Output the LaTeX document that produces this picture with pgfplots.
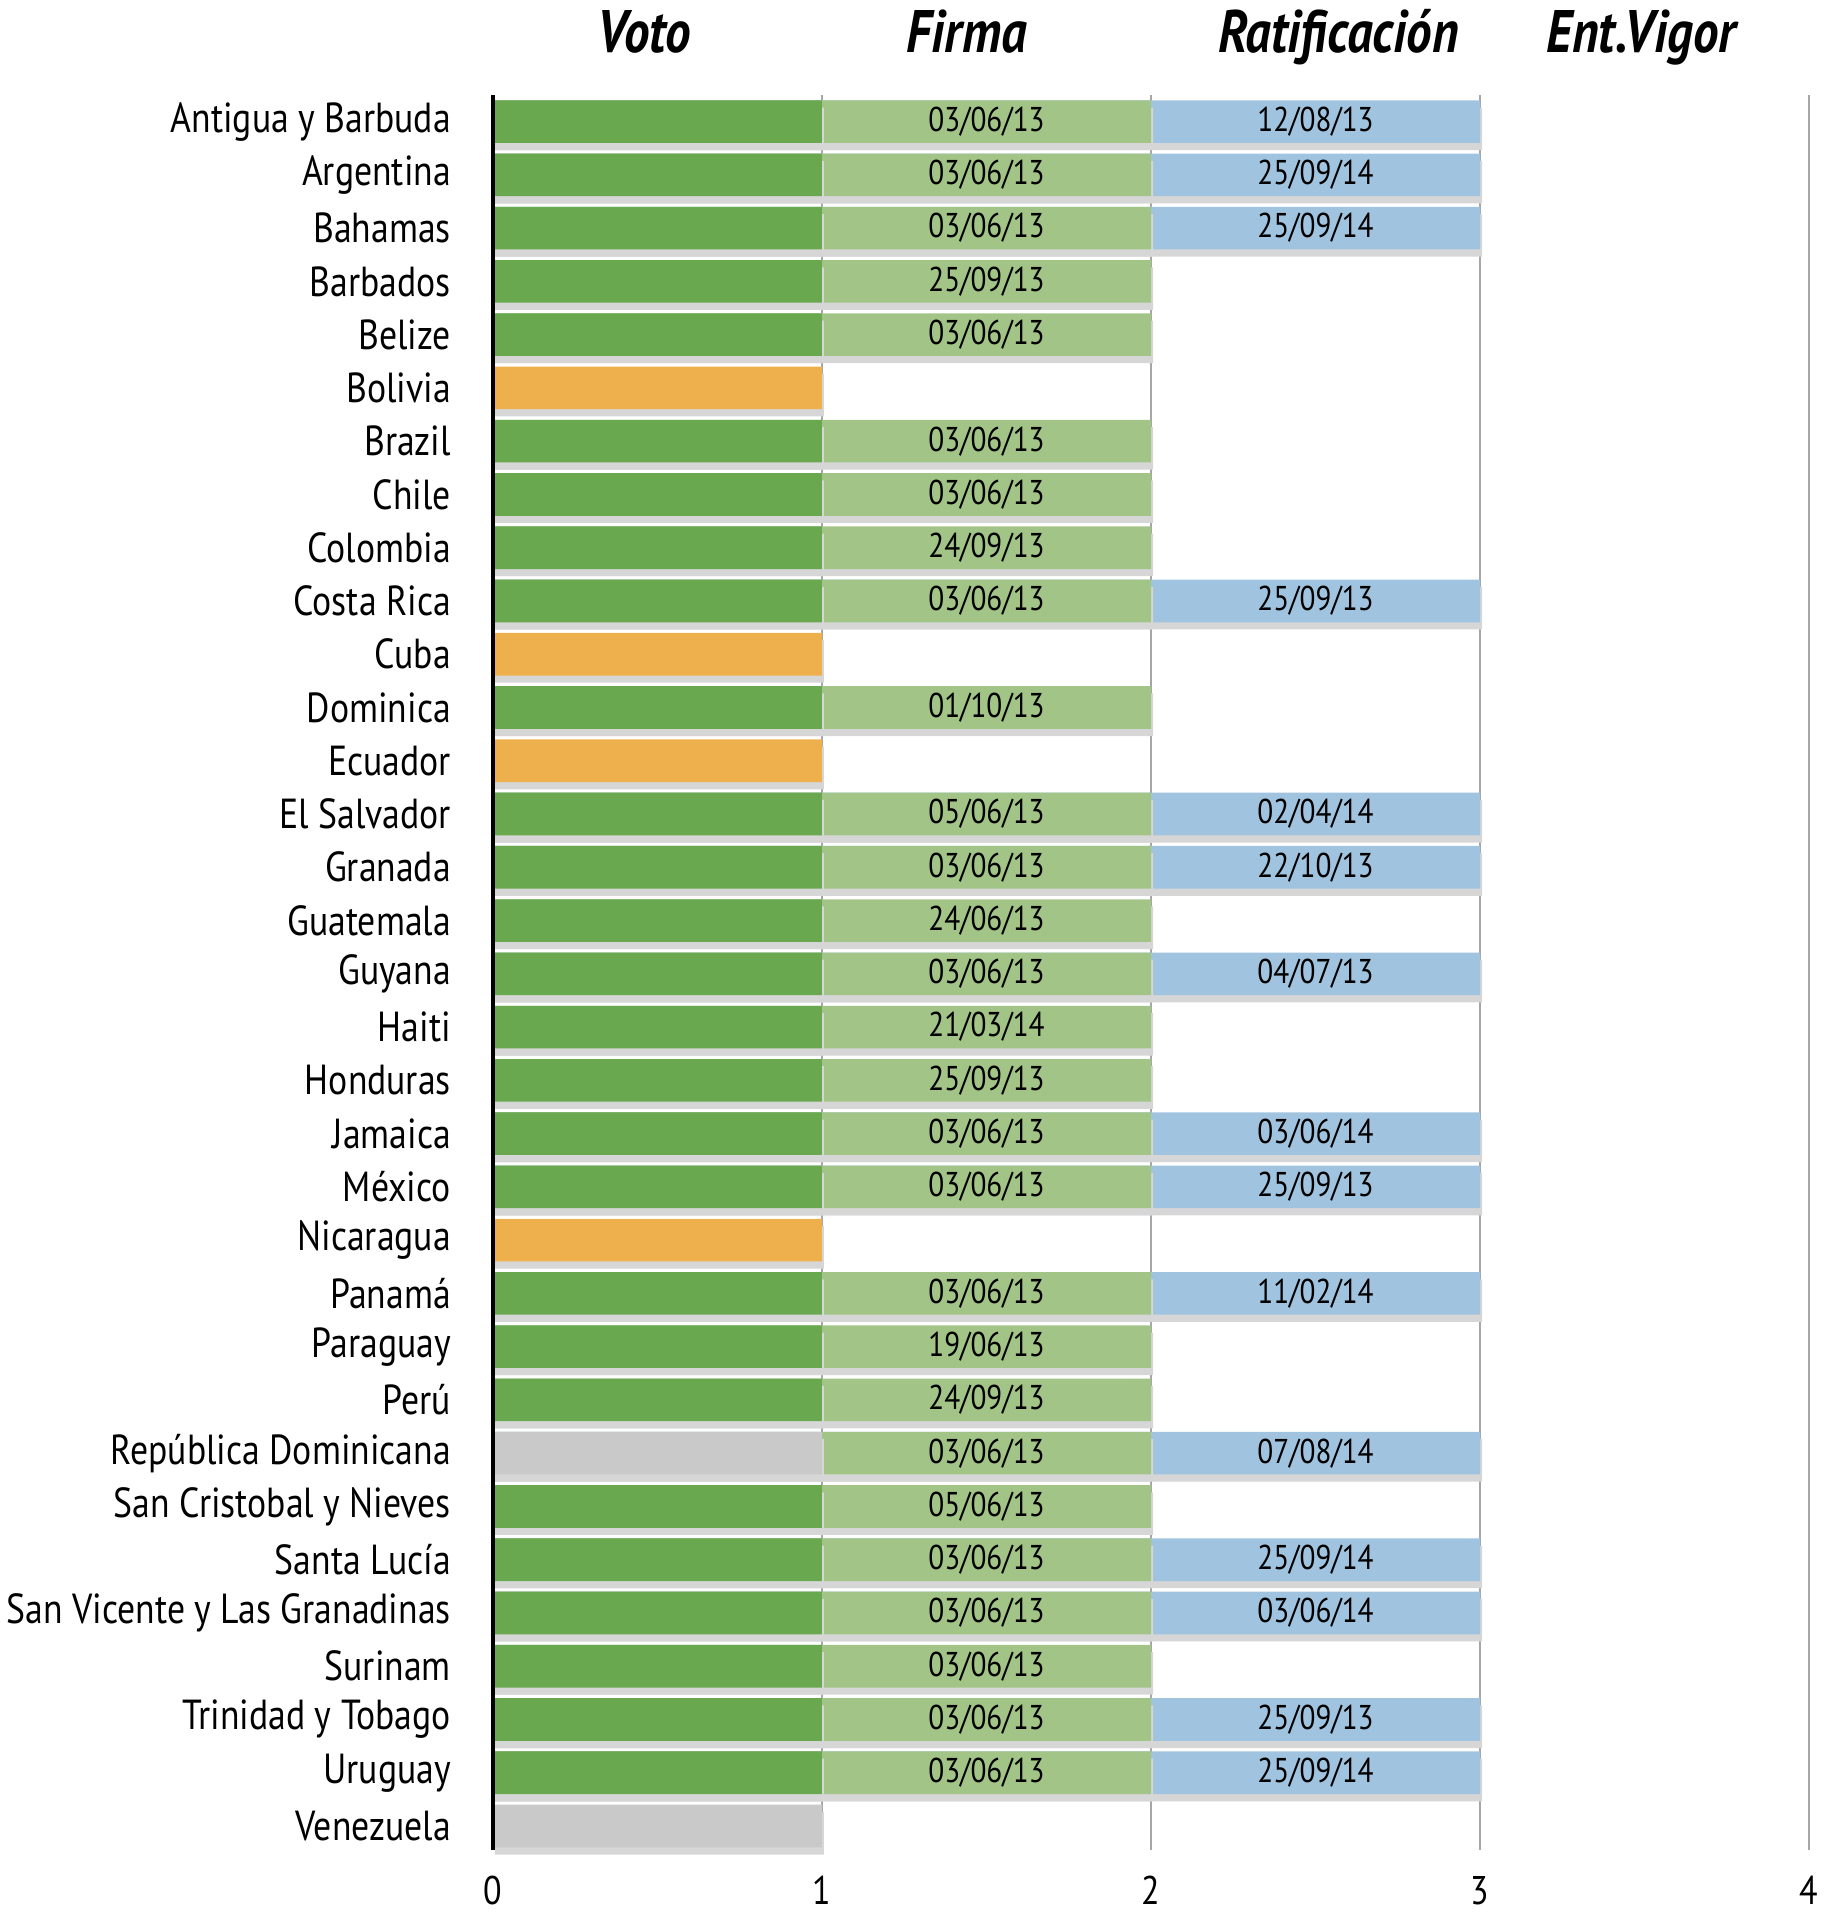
\documentclass[border=0pt]{standalone}
\usepackage{fontspec}
\setmainfont{PT Sans}[FakeStretch=0.85]
\usepackage{pgfplots}
\usepackage{pgfplotstable}
\pgfplotsset{compat=1.18}
\usetikzlibrary{shadows}

\definecolor{cvoto}{RGB}{106,168,80}
\definecolor{cno}{RGB}{237,176,77}
\definecolor{cabs}{RGB}{201,201,201}
\definecolor{cfirma}{RGB}{162,196,135}
\definecolor{crat}{RGB}{160,196,223}

% y = 32 - row index (Antigua at top)
\pgfplotstableread{
y  e  m   d
32 2 1.5 03/06/13
31 2 1.5 03/06/13
30 2 1.5 03/06/13
29 2 1.5 25/09/13
28 2 1.5 03/06/13
26 2 1.5 03/06/13
25 2 1.5 03/06/13
24 2 1.5 24/09/13
23 2 1.5 03/06/13
21 2 1.5 01/10/13
19 2 1.5 05/06/13
18 2 1.5 03/06/13
17 2 1.5 24/06/13
16 2 1.5 03/06/13
15 2 1.5 21/03/14
14 2 1.5 25/09/13
13 2 1.5 03/06/13
12 2 1.5 03/06/13
10 2 1.5 03/06/13
9  2 1.5 19/06/13
8  2 1.5 24/09/13
7  2 1.5 03/06/13
6  2 1.5 05/06/13
5  2 1.5 03/06/13
4  2 1.5 03/06/13
3  2 1.5 03/06/13
2  2 1.5 03/06/13
1  2 1.5 03/06/13
}\firma

\pgfplotstableread{
y  e  m   d
32 3 2.5 12/08/13
31 3 2.5 25/09/14
30 3 2.5 25/09/14
23 3 2.5 25/09/13
19 3 2.5 02/04/14
18 3 2.5 22/10/13
16 3 2.5 04/07/13
13 3 2.5 03/06/14
12 3 2.5 25/09/13
10 3 2.5 11/02/14
7  3 2.5 07/08/14
5  3 2.5 25/09/14
4  3 2.5 03/06/14
2  3 2.5 25/09/13
1  3 2.5 25/09/14
}\ratif

\begin{document}
\begin{tikzpicture}
\begin{axis}[name=ax, scale only axis, width=329pt, height=438.75pt,
  xmin=0, xmax=4, ymin=-0.45, ymax=32.5,
  axis line style={draw=none},
  xtick={0,1,2,3,4},
  xmajorgrids, grid style={black!35, line width=0.6pt},
  ytick={0,...,32},
  yticklabels={Venezuela, Uruguay, Trinidad y Tobago, Surinam,
    San Vicente y Las Granadinas, Santa Lucía, San Cristobal y Nieves,
    República Dominicana, Perú, Paraguay, Panamá, Nicaragua, México,
    Jamaica, Honduras, Haiti, Guyana, Guatemala, Granada, El Salvador,
    Ecuador, Dominica, Cuba, Costa Rica, Colombia, Chile, Brazil, Bolivia,
    Belize, Barbados, Bahamas, Argentina, Antigua y Barbuda},
  major tick length=0pt,
  /pgf/number format/assume math mode=true,
  yticklabel style={font=\fontsize{10.5}{12}\selectfont, xshift=-7pt},
  xticklabel style={font=\fontsize{10}{11}\selectfont, yshift=-3pt},
  clip=false,
  every node near coord/.style={anchor=center, font=\fontsize{8.6}{10}\selectfont, black},
  shd/.style={drop shadow={shadow xshift=0.5pt, shadow yshift=-1.8pt, fill=black!16, opacity=1}},
]
% Ratificación (0..3, covered on the left by later layers)
\addplot[xbar, bar width=0.8, bar shift=0pt, fill=crat, draw=none, shd]
  table[x=e, y=y] {\ratif};
% Firma
\addplot[xbar, bar width=0.8, bar shift=0pt, fill=cfirma, draw=none, shd]
  table[x=e, y=y] {\firma};
% Voto
\addplot[xbar, bar width=0.8, bar shift=0pt, fill=cvoto, draw=none, shd]
  coordinates {(1,32) (1,31) (1,30) (1,29) (1,28) (1,26) (1,25) (1,24)
    (1,23) (1,21) (1,19) (1,18) (1,17) (1,16) (1,15) (1,14) (1,13)
    (1,12) (1,10) (1,9) (1,8) (1,6) (1,5) (1,4) (1,3) (1,2) (1,1)};
\addplot[xbar, bar width=0.8, bar shift=0pt, fill=cno, draw=none, shd]
  coordinates {(1,27) (1,22) (1,20) (1,11)};
\addplot[xbar, bar width=0.8, bar shift=0pt, fill=cabs, draw=none, shd]
  coordinates {(1,7) (1,0)};
% dates
\addplot[draw=none, mark=none, nodes near coords, point meta=explicit symbolic]
  table[x=m, y=y, meta=d] {\firma};
\addplot[draw=none, mark=none, nodes near coords, point meta=explicit symbolic]
  table[x=m, y=y, meta=d] {\ratif};
\draw[black, line width=0.9pt] (axis cs:0,-0.45) -- (axis cs:0,32.5);
\begin{scope}[font=\fontsize{15}{17}\selectfont\bfseries\itshape, every node/.style={anchor=base}]
\node at (axis cs:0.46,32.5) [yshift=10.5pt] {Voto};
\node at (axis cs:1.44,32.5) [yshift=10.5pt] {Firma};
\node at (axis cs:2.57,32.5) [yshift=10.5pt] {Ratificación};
\node at (axis cs:3.49,32.5) [yshift=10.5pt] {Ent.Vigor};
\end{scope}
\end{axis}
\pgfresetboundingbox
\path[use as bounding box] ([xshift=-123.25pt,yshift=-16.25pt]ax.south west)
  rectangle ([xshift=4.25pt,yshift=23.75pt]ax.north east);
\end{tikzpicture}
\end{document}
